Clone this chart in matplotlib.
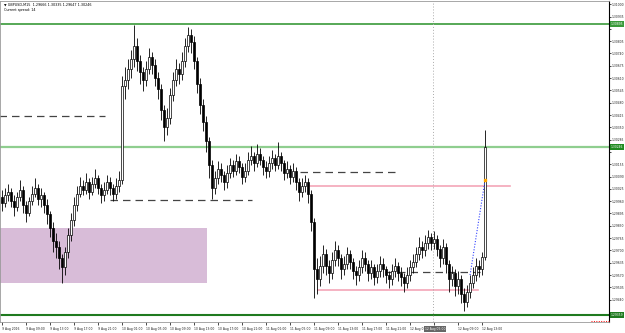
import matplotlib.pyplot as plt
import matplotlib.transforms as mtransforms
from matplotlib.patches import Rectangle

title_line = "▼ GBPUSD,M15  1.29666 1.30335 1.29647 1.30246"
spread_line = "Current spread: 14"

# GBPUSD candles, open = previous close
first_open = 1.2998
closes = [1.2995, 1.2999, 1.3001, 1.2996, 1.2993, 1.2998, 1.3002, 1.2994, 1.2990, 1.2996,
          1.3000, 1.3003, 1.2997, 1.2999, 1.2994, 1.2989, 1.2982, 1.2975, 1.2972, 1.2966,
          1.2961, 1.2969, 1.2978, 1.2986, 1.2994, 1.3000, 1.3004, 1.3002, 1.3006, 1.3001,
          1.3005, 1.3008, 1.3003, 1.2999, 1.3002, 1.3006, 1.3003, 1.3000, 1.3004, 1.3007,
          1.3057, 1.3060, 1.3066, 1.3071, 1.3078, 1.3070, 1.3064, 1.3060, 1.3066, 1.3072,
          1.3068, 1.3061, 1.3055, 1.3044, 1.3035, 1.3040, 1.3052, 1.3060, 1.3066, 1.3063,
          1.3070, 1.3078, 1.3084, 1.3080, 1.3070, 1.3058, 1.3047, 1.3038, 1.3028, 1.3015,
          1.3003, 1.3008, 1.3013, 1.3010, 1.3006, 1.3011, 1.3015, 1.3012, 1.3017, 1.3014,
          1.3009, 1.3012, 1.3018, 1.3020, 1.3016, 1.3021, 1.3018, 1.3014, 1.3012, 1.3016,
          1.3019, 1.3015, 1.3020, 1.3016, 1.3011, 1.3013, 1.3009, 1.3012, 1.3006, 1.3001,
          1.3004, 1.3006, 1.3000, 1.2985, 1.2960, 1.2955, 1.2962, 1.2968, 1.2962, 1.2958,
          1.2965, 1.2970, 1.2966, 1.2960, 1.2963, 1.2968, 1.2964, 1.2959, 1.2957, 1.2961,
          1.2966, 1.2963, 1.2958, 1.2961, 1.2956, 1.2959, 1.2963, 1.2960, 1.2957, 1.2955,
          1.2959, 1.2962, 1.2958, 1.2956, 1.2953, 1.2957, 1.2961, 1.2964, 1.2968, 1.2972,
          1.2970, 1.2974, 1.2977, 1.2974, 1.2976, 1.2971, 1.2966, 1.2972, 1.2963, 1.2955,
          1.2958, 1.2951, 1.2955, 1.2947, 1.2943, 1.2948, 1.2953, 1.2957, 1.2962, 1.2960,
          1.29666, 1.30246]
highs = [1.3002, 1.3003, 1.3005, 1.3003, 1.2999, 1.3001, 1.3007, 1.3004, 1.2996, 1.2998,
         1.3004, 1.3008, 1.3005, 1.3003, 1.3001, 1.2997, 1.2991, 1.2985, 1.2979, 1.2975,
         1.2968, 1.2972, 1.2982, 1.2990, 1.2998, 1.3004, 1.3009, 1.3007, 1.3011, 1.3008,
         1.3009, 1.3013, 1.3010, 1.3005, 1.3006, 1.3010, 1.3009, 1.3005, 1.3008, 1.3012,
         1.3062, 1.3067, 1.3071, 1.3076, 1.3089, 1.3082, 1.3073, 1.3067, 1.3070, 1.3077,
         1.3075, 1.3071, 1.3064, 1.3058, 1.3047, 1.3045, 1.3056, 1.3064, 1.3071, 1.3069,
         1.3075, 1.3082, 1.3088, 1.3087, 1.3083, 1.3072, 1.3061, 1.3050, 1.3041, 1.3030,
         1.3018, 1.3012, 1.3017, 1.3016, 1.3012, 1.3015, 1.3019, 1.3018, 1.3021, 1.3020,
         1.3016, 1.3016, 1.3022, 1.3025, 1.3022, 1.3026, 1.3024, 1.3020, 1.3017, 1.3020,
         1.3023, 1.3021, 1.3027, 1.3022, 1.3018, 1.3017, 1.3015, 1.3016, 1.3014, 1.3008,
         1.3008, 1.3010, 1.3008, 1.3002, 1.2987, 1.2966, 1.2967, 1.2973, 1.2971, 1.2965,
         1.2969, 1.2975, 1.2973, 1.2968, 1.2967, 1.2972, 1.2970, 1.2966, 1.2962, 1.2965,
         1.2970, 1.2969, 1.2965, 1.2965, 1.2963, 1.2963, 1.2967, 1.2966, 1.2962, 1.2959,
         1.2963, 1.2966, 1.2964, 1.2961, 1.2958, 1.2961, 1.2965, 1.2968, 1.2972, 1.2977,
         1.2975, 1.2978, 1.2981, 1.2979, 1.2980, 1.2978, 1.2973, 1.2976, 1.2974, 1.2965,
         1.2962, 1.2960, 1.2959, 1.2957, 1.2950, 1.2952, 1.2957, 1.2961, 1.2966, 1.2965,
         1.2969, 1.30335]
lows = [1.2991, 1.2993, 1.2996, 1.2993, 1.2988, 1.2991, 1.2996, 1.2990, 1.2985, 1.2988,
        1.2994, 1.2998, 1.2994, 1.2993, 1.2990, 1.2984, 1.2977, 1.2969, 1.2966, 1.2960,
        1.2953, 1.2957, 1.2966, 1.2975, 1.2983, 1.2991, 1.2998, 1.2999, 1.3000, 1.2997,
        1.2999, 1.3003, 1.3000, 1.2995, 1.2996, 1.3000, 1.2999, 1.2996, 1.2997, 1.3001,
        1.3005, 1.3050, 1.3055, 1.3061, 1.3067, 1.3065, 1.3058, 1.3054, 1.3057, 1.3063,
        1.3063, 1.3057, 1.3050, 1.3039, 1.3028, 1.3031, 1.3037, 1.3049, 1.3057, 1.3058,
        1.3060, 1.3067, 1.3075, 1.3074, 1.3066, 1.3053, 1.3042, 1.3033, 1.3022, 1.3008,
        1.2997, 1.3000, 1.3005, 1.3006, 1.3002, 1.3003, 1.3008, 1.3009, 1.3010, 1.3011,
        1.3005, 1.3006, 1.3010, 1.3015, 1.3012, 1.3014, 1.3015, 1.3010, 1.3008, 1.3009,
        1.3013, 1.3012, 1.3013, 1.3012, 1.3007, 1.3008, 1.3005, 1.3006, 1.3002, 1.2996,
        1.2998, 1.3001, 1.2995, 1.2980, 1.2945, 1.2947, 1.2951, 1.2958, 1.2957, 1.2953,
        1.2955, 1.2962, 1.2962, 1.2955, 1.2957, 1.2960, 1.2960, 1.2955, 1.2952, 1.2954,
        1.2958, 1.2959, 1.2954, 1.2955, 1.2952, 1.2953, 1.2956, 1.2956, 1.2953, 1.2950,
        1.2952, 1.2956, 1.2954, 1.2951, 1.2948, 1.2950, 1.2954, 1.2958, 1.2961, 1.2965,
        1.2966, 1.2967, 1.2971, 1.2970, 1.2971, 1.2967, 1.2961, 1.2963, 1.2958, 1.2948,
        1.2951, 1.2946, 1.2947, 1.2942, 1.2938, 1.2940, 1.2945, 1.2950, 1.2954, 1.2956,
        1.2957, 1.29647]

# time labels every 8 bars ("12 Aug 05:00" sits under the crosshair box)
time_labels = ["9 Aug 2016", "9 Aug 09:00", "9 Aug 13:00", "9 Aug 17:00", "9 Aug 21:00",
               "10 Aug 01:00", "10 Aug 05:00", "10 Aug 09:00", "10 Aug 13:00", "10 Aug 17:00",
               "10 Aug 21:00", "11 Aug 01:00", "11 Aug 05:00", "11 Aug 09:00", "11 Aug 13:00",
               "11 Aug 17:00", "11 Aug 21:00", "12 Aug 01:00", "", "12 Aug 09:00",
               "12 Aug 13:00"]
label_step = 8

# chart objects: (start bar, end bar, price)
dashed_levels = [(-1, 34.3, 1.30410), (36, 83.3, 1.29966), (99.3, 131, 1.30114), (127.7, 161, 1.29586)]
pink_levels = [(102.7, 169.3, 1.30040), (105.3, 158.7, 1.29491)]
zone = (-1, 68.3, 1.29528, 1.29818)
top_level = 1.30895
bid_level = 1.30246
bottom_level = 1.29359
trend = ([156, 161], [1.29570, 1.30072])
cross_bar = 143.67
cross_text = "12 Aug 05:00"

n = len(closes)
opens = [first_open] + closes[:-1]
xs = list(range(n))

fig = plt.figure(figsize=(6.25, 3.33), dpi=100)
ax = fig.add_axes([0, 11 / 333, 609 / 625, 321 / 333])
ax.set_xlim(-0.667, 202.3)
ax.set_ylim(1.29322, 1.31017)

# zone and levels
ax.add_patch(Rectangle((zone[0], zone[2]), zone[1] - zone[0], zone[3] - zone[2],
                       facecolor='#d8bcd8', edgecolor='none', zorder=1))
for x0, x1, p in dashed_levels:
    ax.plot([x0, x1], [p, p], color='#444444', lw=0.9, ls=(0, (6, 4)), zorder=2)
for x0, x1, p in pink_levels:
    ax.plot([x0, x1], [p, p], color='#f4a6b8', lw=1.2, zorder=2)
ax.axhline(top_level, color='#3a9a3a', lw=1.2, zorder=2)
ax.axhline(bid_level, color='#8fce8f', lw=1.6, zorder=2)
ax.axhline(bottom_level, color='#1f7a1f', lw=1.5, zorder=2)
ax.axvline(cross_bar, color='#aaaaaa', lw=0.7, ls=(0, (1, 2)), zorder=2)

# candles
for i in xs:
    o, c, h, l = opens[i], closes[i], highs[i], lows[i]
    ax.vlines(i, l, h, color='black', lw=0.6, zorder=3)
    face = 'white' if c >= o else 'black'
    ax.bar(i, max(abs(c - o), 0.00002), bottom=min(o, c), width=0.7,
           facecolor=face, edgecolor='black', linewidth=0.5, zorder=4)

ax.plot(trend[0], trend[1], color='#3344ff', lw=0.8, ls=(0, (1, 1.5)), zorder=5)
ax.plot([trend[0][1]], [trend[1][1]], marker='s', ms=1.5, color='orange', zorder=6)
ax.plot([196.3, 202.3], [1.29325, 1.29325], color='red', lw=0.7,
        ls=(0, (1, 1.5)), zorder=5, clip_on=False)

# axes styling
for side in ['top', 'left', 'bottom']:
    ax.spines[side].set_color('#999999')
    ax.spines[side].set_linewidth(0.6)
ax.spines['right'].set_color('black')
ax.spines['right'].set_linewidth(0.8)
ax.yaxis.tick_right()
levels = [top_level, bid_level, bottom_level]
yticks = [round(1.31000 - 0.00065 * k, 5) for k in range(26)]
ax.set_yticks(yticks)
ax.set_yticklabels(['' if min(abs(v - q) for q in levels) < 0.0003 else '%.5f' % v for v in yticks],
                   fontsize=2.2, color='#222222')
ax.tick_params(axis='y', length=1.5, width=0.5, pad=0.5)
ax.set_xticks([k * label_step for k in range(len(time_labels))])
ax.set_xticklabels(time_labels, fontsize=2.2, color='#222222', ha='left')
ax.tick_params(axis='x', length=2, width=0.5, pad=1.5)

# price labels on the right axis
trans = mtransforms.blended_transform_factory(ax.transAxes, ax.transData)
for p, bg, fg in [(top_level, '#3a9a3a', 'white'), (bid_level, '#1f8a1f', 'white'),
                  (bottom_level, '#1f7a1f', 'white')]:
    ax.text(1.003, p, '%.5f' % p, transform=trans, fontsize=2.2, color=fg, va='center',
            ha='left', bbox=dict(boxstyle='square,pad=0.2', fc=bg, ec='none'), zorder=10,
            clip_on=False)

# crosshair time box
ax.text(cross_bar + 0.6, -0.016, cross_text,
        transform=mtransforms.blended_transform_factory(ax.transData, ax.transAxes),
        fontsize=2.2, color='white', ha='center', va='top',
        bbox=dict(boxstyle='square,pad=0.25', fc='#666666', ec='none'), clip_on=False, zorder=10)

ax.text(0.006, 0.995, title_line, transform=ax.transAxes, fontsize=2.4, va='top', ha='left')
ax.text(0.006, 0.977, spread_line, transform=ax.transAxes, fontsize=2.4, va='top', ha='left')

fig.savefig('out.png', dpi=100, facecolor='white')
